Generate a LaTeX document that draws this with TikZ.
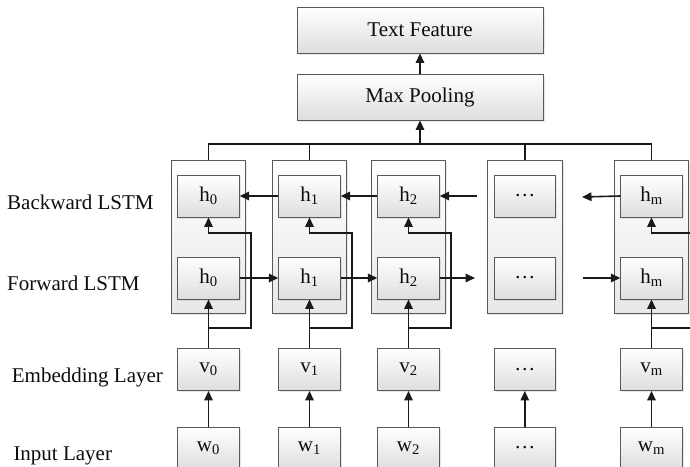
\documentclass[tikz,border=0pt]{standalone}
\usepackage{fontspec}
\setmainfont{Liberation Serif}
\usetikzlibrary{arrows.meta,shadows}
\begin{document}
\begin{tikzpicture}[x=1pt,y=-1pt,
  txt/.style={font=\fontsize{21}{25}\selectfont, text=black!95},
  box/.style={txt, draw=black!65, line width=0.9pt, top color=white, bottom color=black!13,
    minimum width=61.5pt, minimum height=42pt, inner sep=0pt,
    drop shadow={opacity=0.18, shadow xshift=1.5pt, shadow yshift=-1.5pt}},
  widebox/.style={box, minimum width=246pt, minimum height=46pt},
  outer/.style={draw=black!65, line width=0.9pt, top color=white, bottom color=black!9,
    minimum width=74.5pt, minimum height=153pt, inner sep=0pt,
    drop shadow={opacity=0.18, shadow xshift=1.5pt, shadow yshift=-1.5pt}},
  conn/.style={line width=1.6pt, draw=black!90},
  arr/.style={conn, -{Triangle[length=9.5pt,width=8.5pt]}},
  lbl/.style={txt, anchor=base west, inner sep=0pt}]
\useasboundingbox (0,0) rectangle (690,466);
\clip (0,0) rectangle (690,466);

% top boxes
\node[widebox] (tf) at (420,30) {Text Feature};
\node[widebox] (mp) at (420,97) {Max Pooling};

% column frames
\node[outer] (c0) at (208.5,236.5) {};
\node[outer] (c1) at (309.5,236.5) {};
\node[outer] (c2) at (408.5,236.5) {};
\node[outer] (c3) at (524.8,236.5) {};
\node[outer] (cm) at (651.5,236.5) {};

% backward row
\node[box] (b0) at (208.5,196) {h\textsubscript{0}};
\node[box] (b1) at (309.5,196) {h\textsubscript{1}};
\node[box] (b2) at (408.5,196) {h\textsubscript{2}};
\node[box] (b3) at (524.8,196) {\dots};
\node[box] (bm) at (651.5,196) {h\textsubscript{m}};
% forward row
\node[box] (f0) at (208.5,278) {h\textsubscript{0}};
\node[box] (f1) at (309.5,278) {h\textsubscript{1}};
\node[box] (f2) at (408.5,278) {h\textsubscript{2}};
\node[box] (f3) at (524.8,278) {\dots};
\node[box] (fm) at (651.5,278) {h\textsubscript{m}};
% embedding row
\node[box] (v0) at (208.5,369.5) {v\textsubscript{0}};
\node[box] (v1) at (309.5,369.5) {v\textsubscript{1}};
\node[box] (v2) at (408.5,369.5) {v\textsubscript{2}};
\node[box] (v3) at (524.8,369.5) {\dots};
\node[box] (vm) at (651.5,369.5) {v\textsubscript{m}};
% input row
\node[box] (w0) at (208.5,448) {w\textsubscript{0}};
\node[box] (w1) at (309.5,448) {w\textsubscript{1}};
\node[box] (w2) at (408.5,448) {w\textsubscript{2}};
\node[box] (w3) at (524.8,448) {\dots};
\node[box] (wm) at (651.5,448) {w\textsubscript{m}};

% labels
\node[lbl] (lb) at (7,209.3) {Backward LSTM};
\node[lbl] (lf) at (7,290.7) {Forward LSTM};
\node[lbl] (le) at (11.7,382.7) {Embedding Layer};
\node[lbl] (li) at (13.3,460) {Input Layer};

% pooling connections
\coordinate (busL) at (208.5,144);
\coordinate (busR) at (651.5,144);
\coordinate (busM) at (420,144);
\draw[conn] (c0.north) -- (busL) -- (busR) -- (cm.north);
\draw[conn] (c1.north) -- (c1.north |- busL);
\draw[conn] (c3.north) -- (c3.north |- busL);
\draw[arr] (busM) -- (mp.south);
\draw[arr] (mp.north) -- (tf.south);

% input -> embedding
\foreach \k in {0,1,2,3,m}{
  \draw[arr] (w\k.north) -- (v\k.south);
}
% embedding -> forward and feedback to backward
\foreach \k/\x in {0/208.5,1/309.5,2/408.5,m/651.5}{
  \coordinate (j\k) at (\x,328);
  \coordinate (r\k) at (\x+42.2,328);
  \coordinate (t\k) at (\x+42.2,233);
  \draw[arr] (v\k.north) -- (f\k.south);
  \draw[arr] (j\k) -- (r\k) -- (t\k) -| (b\k.south);
}

% forward chain
\coordinate (fo2) at (475,278);
\coordinate (fim) at (583,278);
\draw[arr] (f0.east) -- (f1.west);
\draw[arr] (f1.east) -- (f2.west);
\draw[arr] (f2.east) -- (fo2);
\draw[arr] (fim) -- (fm.west);
% backward chain
\coordinate (bi2) at (476.5,196);
\coordinate (bom) at (582,197);
\draw[arr] (b1.west) -- (b0.east);
\draw[arr] (b2.west) -- (b1.east);
\draw[arr] (bi2) -- (b2.east);
\draw[arr] (bm.west) -- (bom);
\end{tikzpicture}
\end{document}
